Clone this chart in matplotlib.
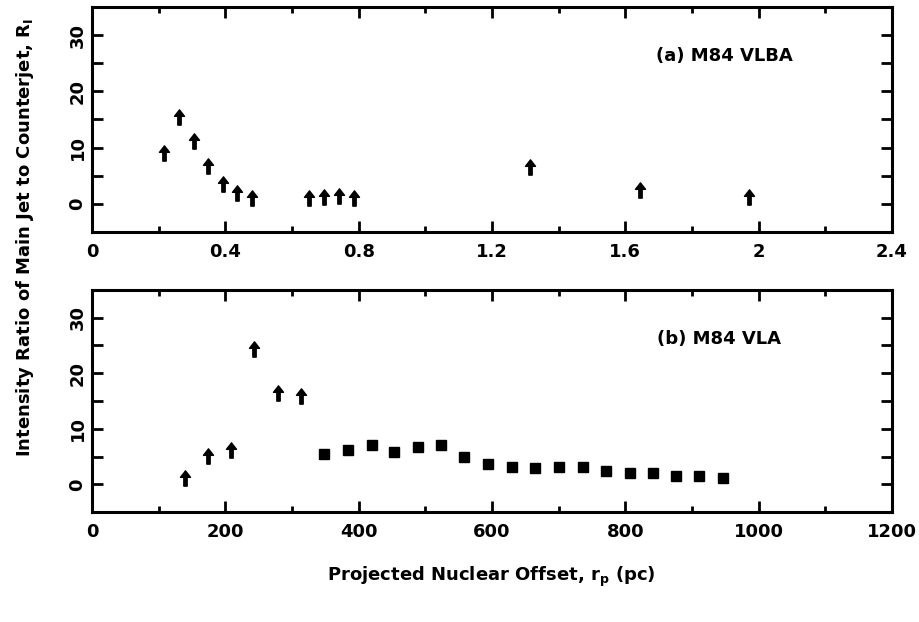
import numpy as np
import matplotlib
matplotlib.use("Agg")
import matplotlib.pyplot as plt
from matplotlib.path import Path
from matplotlib.ticker import MultipleLocator

# (a) VLBA lower limits: offset in arcsec-scale units, ratio
vlba_r = [0.216, 0.26, 0.305, 0.349, 0.393, 0.436, 0.479,
          0.652, 0.697, 0.741, 0.785, 1.314, 1.645, 1.972]
vlba_R = [9.0, 15.5, 11.1, 6.8, 3.6, 2.0, 1.1,
          1.1, 1.25, 1.4, 1.1, 6.6, 2.4, 1.25]

# (b) VLA lower limits (arrows) and measured ratios (squares), pc
vla_lim_r = [139, 174.5, 209, 243, 278.5, 313.5]
vla_lim_R = [1.2, 5.1, 6.1, 24.3, 16.5, 15.9]
vla_r = [348.5, 383.5, 419.5, 453.5, 488.5, 523, 558.5, 593.5, 629.5,
         664.5, 701, 736.5, 771.5, 806.5, 841.5, 876.5, 911, 946.5]
vla_R = [5.5, 6.25, 7.1, 5.8, 6.8, 7.05, 4.9, 3.6, 3.1,
         3.0, 3.2, 3.1, 2.4, 2.1, 2.1, 1.5, 1.5, 1.1]

# upward arrow marker for lower limits
arrow = Path([(0, 1), (0.66, 0.15), (0.22, 0.15), (0.22, -1),
              (-0.22, -1), (-0.22, 0.15), (-0.66, 0.15), (0, 1)], closed=True)

plt.rcParams['font.family'] = 'DejaVu Sans'
plt.rcParams['font.weight'] = 'bold'

fig = plt.figure(figsize=(9.2, 6.22), dpi=100)
ax1 = fig.add_axes([0.1, 0.627, 0.8696, 0.3618])
ax2 = fig.add_axes([0.1, 0.1768, 0.8696, 0.357])


def style(ax, xmax, xmaj, xmin):
    ax.set_ylim(-5, 35)
    ax.set_xlim(0, xmax)
    ax.xaxis.set_major_locator(MultipleLocator(xmaj))
    ax.xaxis.set_minor_locator(MultipleLocator(xmin))
    ax.yaxis.set_major_locator(MultipleLocator(10))
    ax.yaxis.set_minor_locator(MultipleLocator(5))
    for s in ax.spines.values():
        s.set_linewidth(2.2)
    ax.tick_params(which='both', direction='in', top=True, right=True,
                   width=2.0, labelsize=13)
    ax.tick_params(which='major', axis='x', length=8, pad=8)
    ax.tick_params(which='minor', axis='x', length=4)
    ax.tick_params(which='both', axis='y', length=8, pad=4)
    ax.tick_params(axis='y', labelrotation=90)
    for lab in ax.get_yticklabels():
        lab.set_va('center')
    for lab in ax.get_xticklabels() + ax.get_yticklabels():
        lab.set_fontweight('bold')


style(ax1, 2.4, 0.4, 0.2)
ax1.set_xticks([0, 0.4, 0.8, 1.2, 1.6, 2.0, 2.4])
ax1.set_xticklabels(['0', '0.4', '0.8', '1.2', '1.6', '2', '2.4'])
ax1.plot(vlba_r, vlba_R, ls='none', marker=arrow, ms=11, color='black')
ax1.text(0.705, 0.78, '(a) M84 VLBA', transform=ax1.transAxes,
         fontsize=13, fontweight='bold', va='center')

style(ax2, 1200, 200, 100)
ax2.plot(vla_lim_r, vla_lim_R, ls='none', marker=arrow, ms=11, color='black')
ax2.plot(vla_r, vla_R, ls='none', marker='s', ms=6.5, color='black',
         markeredgewidth=1.0, markeredgecolor='black')
ax2.text(0.706, 0.78, '(b) M84 VLA', transform=ax2.transAxes,
         fontsize=13, fontweight='bold', va='center')

fig.text(0.027, 0.618, 'Intensity Ratio of Main Jet to Counterjet, R$_\\mathbf{I}$',
         rotation=90, ha='center', va='center', fontsize=13, fontweight='bold')
fig.text(0.534, 0.072, 'Projected Nuclear Offset, r$_\\mathbf{p}$ (pc)',
         ha='center', va='center', fontsize=13, fontweight='bold')

fig.savefig('out.png', dpi=100)
